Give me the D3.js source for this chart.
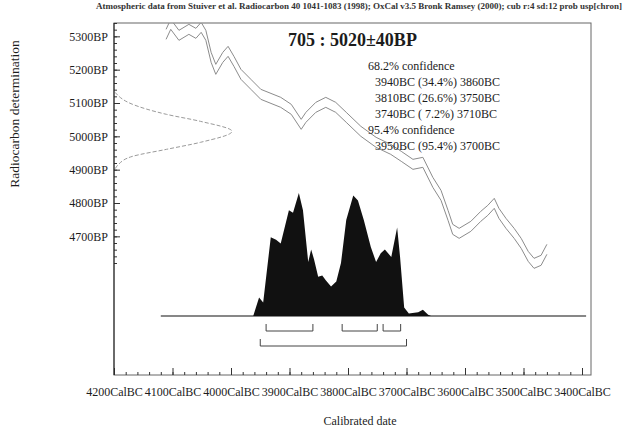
<!DOCTYPE html>
<html>
<head>
<meta charset="utf-8">
<script src="https://cdn.jsdelivr.net/npm/d3@7"></script>
<style>
  body { margin: 0; background: #fff; }
  svg { display: block; font-family: "Liberation Serif", "Times New Roman", serif; }
</style>
</head>
<body>
<svg width="628" height="429"></svg>
<script>
// ---- data ----
const headerText = "Atmospheric data from Stuiver et al. Radiocarbon 40 1041-1083 (1998); OxCal v3.5 Bronk Ramsey (2000); cub r:4 sd:12 prob usp[chron]";
const sampleTitle = "705 : 5020\u00b140BP";

const confidenceText = [
  { text: "68.2% confidence", indent: false },
  { text: "3940BC (34.4%) 3860BC", indent: true },
  { text: "3810BC (26.6%) 3750BC", indent: true },
  { text: "3740BC ( 7.2%) 3710BC", indent: true },
  { text: "95.4% confidence", indent: false },
  { text: "3950BC (95.4%) 3700BC", indent: true }
];

// calibrated ranges (BC)
const rangesOneSigma = [[3940, 3860], [3810, 3750], [3740, 3710]];
const rangesTwoSigma = [[3950, 3700]];

// axis ticks
const calTicks = [4200, 4100, 4000, 3900, 3800, 3700, 3600, 3500, 3400];
const bpTicks = [5300, 5200, 5100, 5000, 4900, 4800, 4700];

// calibration curve (cal BC vs radiocarbon BP, with 1 sigma band)
const calCurveBC = [4111, 4103, 4089, 4072, 4060, 4051, 4043, 4034, 4026, 4014, 4005, 3995, 3983, 3966,
  3949, 3915, 3897, 3880, 3872, 3855, 3838, 3821, 3803, 3778, 3752, 3727, 3709, 3689, 3672, 3655,
  3641, 3629, 3621, 3610, 3590, 3573, 3561, 3550, 3542, 3530, 3516, 3504, 3492, 3482, 3470, 3460];
const calCurveBP = [5306, 5336, 5303, 5321, 5309, 5327, 5303, 5237, 5201, 5237, 5255, 5225, 5186, 5156,
  5126, 5102, 5081, 5036, 5057, 5087, 5102, 5087, 5057, 5015, 4982, 4961, 4940, 4916, 4922, 4862,
  4823, 4763, 4721, 4709, 4730, 4760, 4778, 4799, 4769, 4739, 4709, 4679, 4640, 4619, 4628, 4661];
const calCurveSigma = [15, 15, 15, 15, 15, 15, 15, 15, 15, 15, 15, 15, 15, 15,
  15, 15, 15, 15, 15, 15, 15, 15, 15, 15, 15, 15, 15, 15, 15, 15,
  15, 15, 15, 15, 15, 15, 15, 15, 15, 15, 15, 15, 15, 15, 15, 15];

// calibrated probability distribution (relative)
const probBC = [3966, 3962, 3952, 3945, 3932, 3923, 3915, 3901, 3894, 3884, 3877, 3868, 3863, 3858,
  3851, 3844, 3838, 3829, 3820, 3812, 3803, 3791, 3783, 3773, 3761, 3752, 3744, 3737, 3726, 3716,
  3711, 3704, 3696, 3680, 3672, 3663, 3658];
const probValue = [0, 0, 0.15, 0.11, 0.64, 0.62, 0.59, 0.86, 0.84, 1.0, 0.86, 0.44, 0.54, 0.46,
  0.32, 0.33, 0.29, 0.24, 0.28, 0.43, 0.78, 0.98, 0.94, 0.78, 0.56, 0.44, 0.51, 0.54, 0.48, 0.72,
  0.48, 0.07, 0.02, 0.03, 0.05, 0.01, 0];

// radiocarbon measurement distribution (BP vs relative density)
const rcBP = [5132, 5096, 5066, 5045, 5015, 4982, 4961, 4940, 4916, 4901];
const rcDensity = [0, 0.15, 0.44, 0.73, 1.0, 0.73, 0.44, 0.15, 0.03, 0];

// ---- layout ----
const frame = { left: 114, top: 23, right: 591, bottom: 375 };
const ink = "#1c1c1c";

const svg = d3.select("svg");

const x = d3.scaleLinear().domain([4200, 3400]).range([frame.left, 582]);
const y = d3.scaleLinear().domain([5340, 4620]).range([frame.top, 263]);
const probY = d3.scaleLinear().domain([0, 1]).range([316, 193]);
const rcX = d3.scaleLinear().domain([0, 1]).range([frame.left + 1, 232]);

// header line
svg.append("text")
  .attr("x", 96)
  .attr("y", 9)
  .style("font-size", "9px")
  .style("font-weight", "bold")
  .attr("fill", "#333")
  .text(headerText);

// clip to plot area
svg.append("defs").append("clipPath")
  .attr("id", "plot-clip")
  .append("rect")
  .attr("x", frame.left)
  .attr("y", frame.top)
  .attr("width", frame.right - frame.left)
  .attr("height", frame.bottom - frame.top);

// frame
svg.append("rect")
  .attr("x", frame.left)
  .attr("y", frame.top)
  .attr("width", frame.right - frame.left)
  .attr("height", frame.bottom - frame.top)
  .attr("fill", "none")
  .attr("stroke", "#666")
  .attr("stroke-width", 1);

// calibration curve: upper and lower bounds
const calData = calCurveBC.map((bc, i) => ({ bc: bc, bp: calCurveBP[i], s: calCurveSigma[i] }));
const plot = svg.append("g").attr("clip-path", "url(#plot-clip)");

[1, -1].forEach(sign => {
  plot.append("path")
    .datum(calData)
    .attr("fill", "none")
    .attr("stroke", "#8c8c8c")
    .attr("stroke-width", 1)
    .attr("d", d3.line()
      .x(d => x(d.bc))
      .y(d => y(d.bp + sign * d.s)));
});

// radiocarbon distribution on the y axis
const rcData = rcBP.map((bp, i) => ({ bp: bp, p: rcDensity[i] }));
plot.append("path")
  .datum(rcData)
  .attr("fill", "none")
  .attr("stroke", "#9a9a9a")
  .attr("stroke-width", 1)
  .attr("stroke-dasharray", "4,2")
  .attr("d", d3.line()
    .x(d => rcX(d.p))
    .y(d => y(d.bp))
    .curve(d3.curveMonotoneY));

// calibrated distribution
const probData = probBC.map((bc, i) => ({ bc: bc, p: probValue[i] }));
svg.append("path")
  .datum(probData)
  .attr("fill", "#111")
  .attr("d", d3.area()
    .x(d => x(d.bc))
    .y0(probY(0))
    .y1(d => probY(d.p)));

// distribution baseline
svg.append("line")
  .attr("x1", x(4120))
  .attr("x2", x(3393))
  .attr("y1", probY(0))
  .attr("y2", probY(0))
  .attr("stroke", "#111")
  .attr("stroke-width", 1.2);

// range brackets
function drawBrackets(ranges, yBottom) {
  ranges.forEach(r => {
    svg.append("path")
      .attr("fill", "none")
      .attr("stroke", "#444")
      .attr("stroke-width", 1)
      .attr("d", `M${x(r[0])},${yBottom - 7}V${yBottom}H${x(r[1])}V${yBottom - 7}`);
  });
}
drawBrackets(rangesOneSigma, 331);
drawBrackets(rangesTwoSigma, 346);

// x axis ticks
const xAxisG = svg.append("g").attr("transform", `translate(0,${frame.bottom})`);
xAxisG.call(d3.axisBottom(x).tickValues(d3.range(4200, 3384, -20)).tickSize(-3).tickFormat(""));
xAxisG.append("g").call(d3.axisBottom(x).tickValues(calTicks).tickSize(-7).tickPadding(12)
  .tickFormat(d => d + "CalBC"));
xAxisG.selectAll(".domain").remove();
xAxisG.selectAll("line").attr("stroke", "#333");
xAxisG.selectAll("text")
  .style("font-family", "'Liberation Serif', serif")
  .style("font-size", "12px")
  .attr("fill", ink);

// y axis ticks
const yAxisG = svg.append("g").attr("transform", `translate(${frame.left},0)`);
yAxisG.call(d3.axisLeft(y).tickValues(d3.range(4620, 5341, 20)).tickSize(-3).tickFormat(""));
yAxisG.append("g").call(d3.axisLeft(y).tickValues(bpTicks).tickSize(-6).tickPadding(6)
  .tickFormat(d => d + "BP"));
yAxisG.selectAll(".domain").remove();
yAxisG.selectAll("line").attr("stroke", "#333");
yAxisG.selectAll("text")
  .style("font-family", "'Liberation Serif', serif")
  .style("font-size", "12px")
  .attr("fill", ink);

// left axis line drawn darker
svg.append("line")
  .attr("x1", frame.left).attr("x2", frame.left)
  .attr("y1", frame.top).attr("y2", frame.bottom)
  .attr("stroke", "#222");

// title
svg.append("text")
  .attr("x", 288)
  .attr("y", 46)
  .style("font-size", "18px")
  .style("font-weight", "bold")
  .attr("fill", ink)
  .text(sampleTitle);

// confidence text
svg.append("g")
  .selectAll("text")
  .data(confidenceText)
  .enter().append("text")
  .attr("x", d => d.indent ? 375 : 368)
  .attr("y", (d, i) => 70 + i * 16)
  .style("font-size", "12px")
  .attr("fill", ink)
  .text(d => d.text);

// axis titles
svg.append("text")
  .attr("transform", "translate(19,114) rotate(-90)")
  .style("text-anchor", "middle")
  .style("font-size", "13.5px")
  .attr("fill", ink)
  .text("Radiocarbon determination");

svg.append("text")
  .attr("x", 360)
  .attr("y", 425)
  .style("text-anchor", "middle")
  .style("font-size", "12px")
  .attr("fill", ink)
  .text("Calibrated date");
</script>
</body>
</html>
